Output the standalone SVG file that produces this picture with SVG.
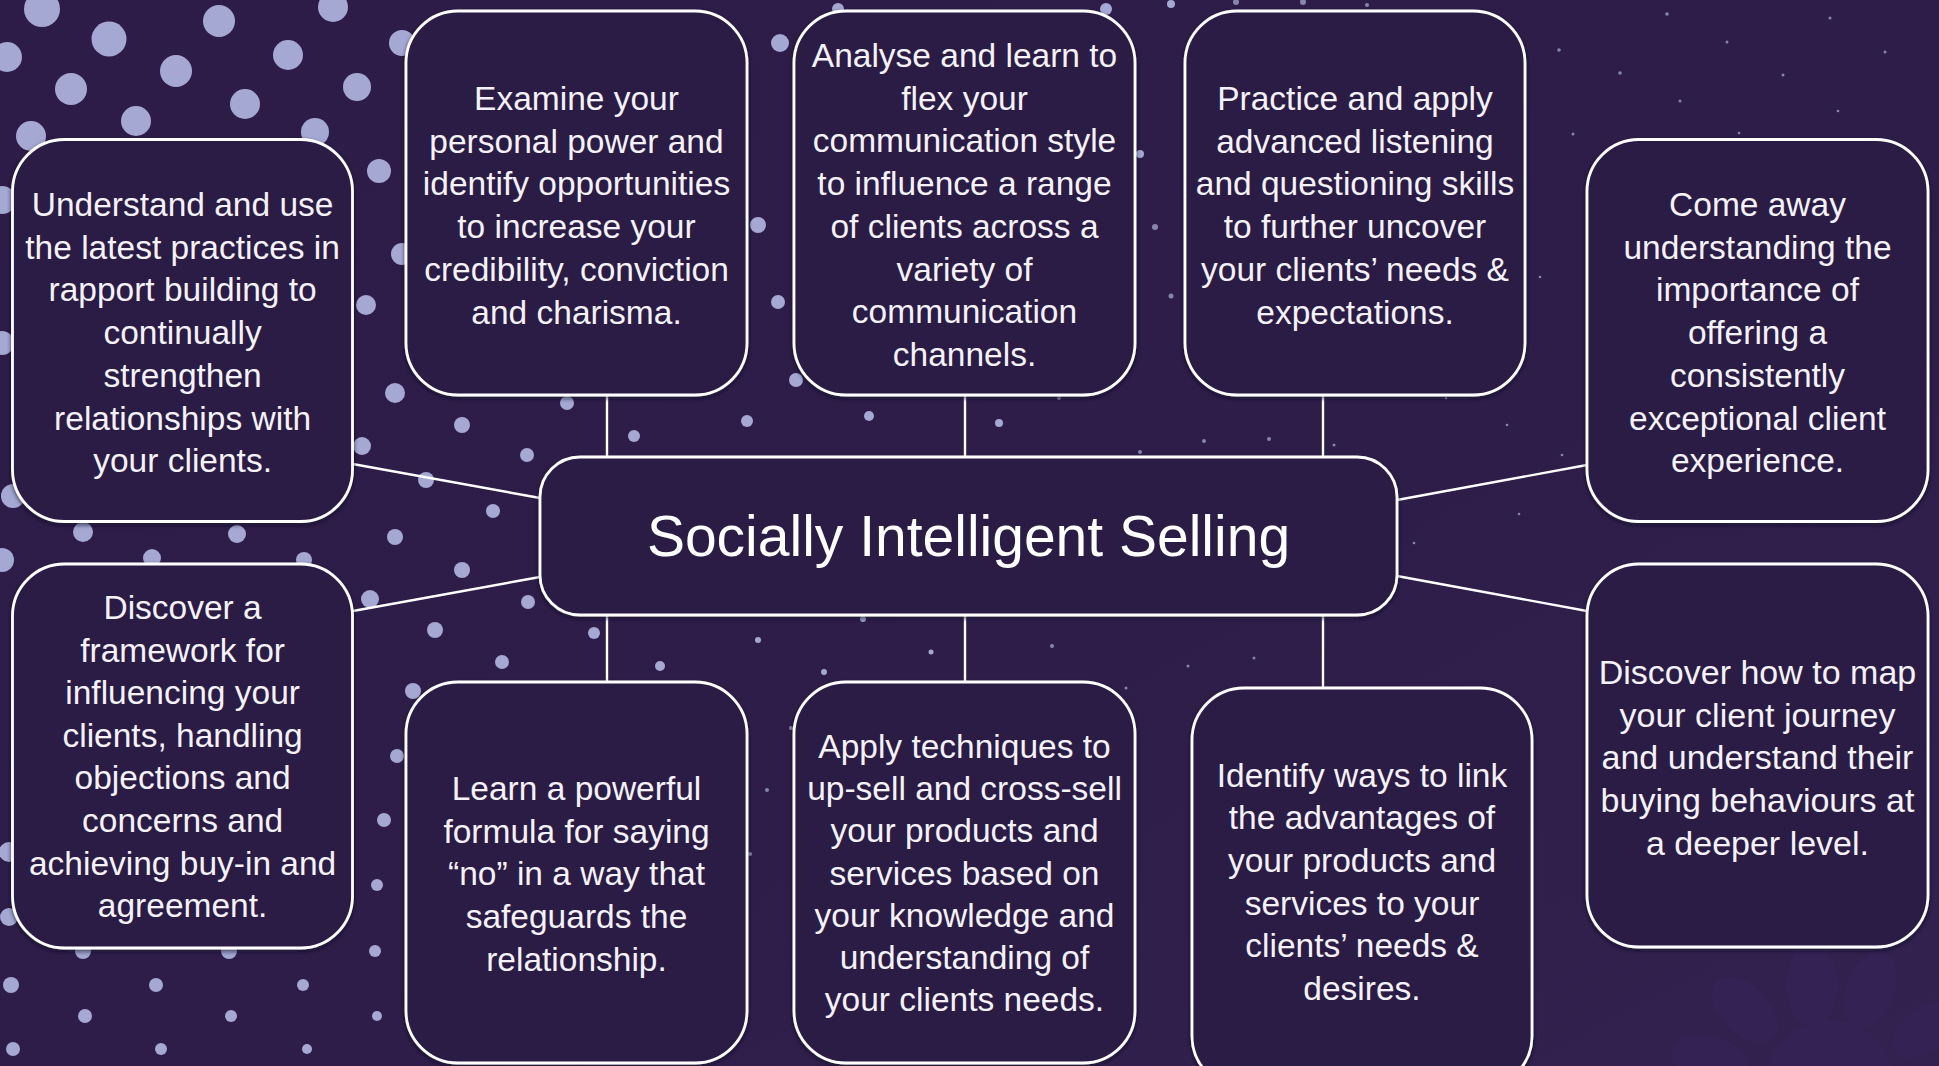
<svg xmlns="http://www.w3.org/2000/svg" width="1939" height="1066" viewBox="0 0 1939 1066">
<defs>
<linearGradient id="bg" x1="0" y1="0" x2="1" y2="1">
<stop offset="0" stop-color="#2d1c47"/>
<stop offset="0.6" stop-color="#2e1d49"/>
<stop offset="1" stop-color="#33214f"/>
</linearGradient>
<filter id="sh" x="-10%" y="-10%" width="120%" height="120%">
<feDropShadow dx="0" dy="2" stdDeviation="2" flood-color="#120a20" flood-opacity="0.7"/>
</filter>
<style>
.box{fill:#2c1b45;stroke:#ffffff;stroke-width:2.8;filter:url(#sh)}
.t{font-family:"Liberation Sans",Arial,Helvetica,sans-serif;font-size:33.5px;fill:#f4f2f8;text-anchor:middle}
.title{font-family:"Liberation Sans",Arial,Helvetica,sans-serif;font-size:57px;fill:#ffffff;text-anchor:middle}
.c{stroke:#ffffff;stroke-width:2.4;fill:none}
.d{fill:#a4a8d3}
.s{fill:#a4a8d3;opacity:0.75}
</style>
</defs>
<rect x="0" y="0" width="1939" height="1066" fill="url(#bg)"/>
<g id="decoration" fill="#37245a" opacity="0.55">
<circle cx="1830" cy="1085" r="65"/>
<ellipse cx="1812" cy="985" rx="26" ry="42"/>
<ellipse cx="1870" cy="990" rx="24" ry="40" transform="rotate(20 1870 990)"/>
<ellipse cx="1745" cy="1010" rx="24" ry="40" transform="rotate(-45 1745 1010)"/>
<ellipse cx="1710" cy="1060" rx="24" ry="40" transform="rotate(-75 1710 1060)"/>
<ellipse cx="1925" cy="1030" rx="22" ry="38" transform="rotate(55 1925 1030)"/>
</g>
<g id="dots">
<circle class="d" cx="42" cy="9" r="18"/>
<circle class="d" cx="109" cy="39" r="17.5"/>
<circle class="d" cx="219" cy="21" r="16"/>
<circle class="d" cx="333" cy="7" r="15"/>
<circle class="d" cx="7" cy="57" r="15"/>
<circle class="d" cx="71" cy="89" r="16"/>
<circle class="d" cx="176" cy="71" r="16"/>
<circle class="d" cx="288" cy="55" r="15"/>
<circle class="d" cx="357" cy="87" r="14"/>
<circle class="d" cx="402" cy="43" r="13"/>
<circle class="d" cx="245" cy="104" r="15"/>
<circle class="d" cx="136" cy="121" r="15"/>
<circle class="d" cx="31" cy="136" r="15"/>
<circle class="d" cx="315" cy="132" r="14"/>
<circle class="d" cx="379" cy="171" r="12"/>
<circle class="d" cx="2" cy="200" r="14"/>
<circle class="d" cx="402" cy="254" r="11"/>
<circle class="d" cx="366" cy="305" r="10"/>
<circle class="d" cx="2" cy="343" r="12"/>
<circle class="d" cx="395" cy="393" r="10"/>
<circle class="d" cx="362" cy="446" r="9"/>
<circle class="d" cx="462" cy="425" r="8"/>
<circle class="d" cx="567" cy="403" r="7"/>
<circle class="d" cx="634" cy="436" r="6"/>
<circle class="d" cx="527" cy="455" r="7"/>
<circle class="d" cx="426" cy="480" r="8"/>
<circle class="d" cx="493" cy="511" r="7"/>
<circle class="d" cx="13" cy="496" r="12"/>
<circle class="d" cx="83" cy="532" r="10"/>
<circle class="d" cx="237" cy="534" r="9"/>
<circle class="d" cx="395" cy="537" r="8"/>
<circle class="d" cx="152" cy="558" r="9"/>
<circle class="d" cx="304" cy="560" r="8"/>
<circle class="d" cx="2" cy="560" r="12"/>
<circle class="d" cx="462" cy="570" r="8"/>
<circle class="d" cx="370" cy="599" r="9"/>
<circle class="d" cx="528" cy="602" r="7"/>
<circle class="d" cx="435" cy="630" r="8"/>
<circle class="d" cx="594" cy="633" r="6"/>
<circle class="d" cx="502" cy="662" r="7"/>
<circle class="d" cx="660" cy="666" r="5"/>
<circle class="d" cx="413" cy="691" r="8"/>
<circle class="d" cx="397" cy="756" r="7"/>
<circle class="d" cx="384" cy="820" r="7"/>
<circle class="d" cx="9" cy="852" r="10"/>
<circle class="d" cx="377" cy="885" r="6"/>
<circle class="d" cx="9" cy="917" r="9"/>
<circle class="d" cx="83" cy="951" r="8"/>
<circle class="d" cx="229" cy="951" r="8"/>
<circle class="d" cx="375" cy="951" r="6"/>
<circle class="d" cx="11" cy="985" r="8"/>
<circle class="d" cx="156" cy="985" r="7"/>
<circle class="d" cx="303" cy="985" r="6"/>
<circle class="d" cx="85" cy="1016" r="7"/>
<circle class="d" cx="231" cy="1016" r="6"/>
<circle class="d" cx="377" cy="1016" r="5"/>
<circle class="d" cx="13" cy="1049" r="7"/>
<circle class="d" cx="161" cy="1049" r="6"/>
<circle class="d" cx="307" cy="1049" r="5"/>
<circle class="d" cx="780" cy="43" r="9"/>
<circle class="d" cx="758" cy="225" r="8"/>
<circle class="d" cx="778" cy="302" r="7"/>
<circle class="d" cx="796" cy="380" r="7"/>
<circle class="d" cx="747" cy="421" r="6"/>
<circle class="d" cx="869" cy="416" r="5"/>
<circle class="d" cx="999" cy="423" r="4"/>
<circle class="d" cx="838" cy="9" r="6"/>
<circle class="d" cx="1106" cy="9" r="6"/>
<circle class="d" cx="1171" cy="4" r="4"/>
<circle class="s" cx="1236" cy="2" r="3"/>
<circle class="s" cx="1303" cy="2" r="3"/>
<circle class="s" cx="1367" cy="5" r="2"/>
<circle class="d" cx="1140" cy="154" r="4"/>
<circle class="s" cx="1155" cy="227" r="3"/>
<circle class="s" cx="1171" cy="296" r="2.5"/>
<circle class="s" cx="1204" cy="441" r="2"/>
<circle class="s" cx="1269" cy="439" r="2"/>
<circle class="s" cx="1140" cy="452" r="2"/>
<circle class="s" cx="1334" cy="445" r="1.5"/>
<circle class="s" cx="1059" cy="398" r="2"/>
<circle class="s" cx="1667" cy="14" r="1.8"/>
<circle class="s" cx="1830" cy="18" r="1.5"/>
<circle class="s" cx="1559" cy="50" r="1.8"/>
<circle class="s" cx="1727" cy="42" r="1.5"/>
<circle class="s" cx="1885" cy="52" r="1.5"/>
<circle class="s" cx="1620" cy="73" r="1.8"/>
<circle class="s" cx="1783" cy="75" r="1.5"/>
<circle class="s" cx="1680" cy="101" r="1.5"/>
<circle class="s" cx="1838" cy="111" r="1.3"/>
<circle class="s" cx="1573" cy="134" r="1.5"/>
<circle class="s" cx="1739" cy="133" r="1.3"/>
<circle class="s" cx="1540" cy="277" r="1.3"/>
<circle class="s" cx="1446" cy="398" r="1.3"/>
<circle class="s" cx="1507" cy="425" r="1.3"/>
<circle class="s" cx="1562" cy="455" r="1.3"/>
<circle class="s" cx="1519" cy="514" r="1.3"/>
<circle class="s" cx="1414" cy="543" r="1.3"/>
<circle class="d" cx="863" cy="619" r="3"/>
<circle class="d" cx="758" cy="640" r="3"/>
<circle class="d" cx="931" cy="652" r="2.5"/>
<circle class="d" cx="824" cy="672" r="3"/>
<circle class="s" cx="1052" cy="646" r="2"/>
<circle class="s" cx="767" cy="790" r="2"/>
<circle class="s" cx="750" cy="854" r="2"/>
<circle class="s" cx="791" cy="728" r="2"/>
<circle class="s" cx="1188" cy="666" r="1.5"/>
<circle class="s" cx="1254" cy="658" r="1.5"/>
<circle class="s" cx="1126" cy="688" r="1.5"/>
</g>
<g id="connectors">
<line class="c" x1="352.7" y1="464" x2="540" y2="498"/>
<line class="c" x1="607" y1="395" x2="607" y2="457"/>
<line class="c" x1="965" y1="395" x2="965" y2="457"/>
<line class="c" x1="1323" y1="395" x2="1323" y2="457"/>
<line class="c" x1="1397" y1="500" x2="1587" y2="465"/>
<line class="c" x1="353" y1="611" x2="540" y2="577"/>
<line class="c" x1="607" y1="615" x2="607" y2="682"/>
<line class="c" x1="965" y1="615" x2="965" y2="682"/>
<line class="c" x1="1323" y1="615" x2="1323" y2="688"/>
<line class="c" x1="1397" y1="576" x2="1587" y2="611"/>
</g>
<g id="center">
<rect class="box" x="540" y="457" width="857" height="158" rx="40"/>
<text class="title" x="968.5" y="556">Socially Intelligent Selling</text>
</g>
<g id="node1">
<rect class="box" x="12.5" y="139.5" width="340" height="382" rx="52"/>
<text class="t" y="216"><tspan x="182.6">Understand and use</tspan><tspan x="182.6" dy="42.7">the latest practices in</tspan><tspan x="182.6" dy="42.7">rapport building to</tspan><tspan x="182.6" dy="42.7">continually</tspan><tspan x="182.6" dy="42.7">strengthen</tspan><tspan x="182.6" dy="42.7">relationships with</tspan><tspan x="182.6" dy="42.7">your clients.</tspan></text>
</g>
<g id="node2">
<rect class="box" x="406" y="11" width="341" height="384" rx="52"/>
<text class="t" y="110"><tspan x="576.5">Examine your</tspan><tspan x="576.5" dy="42.7">personal power and</tspan><tspan x="576.5" dy="42.7">identify opportunities</tspan><tspan x="576.5" dy="42.7">to increase your</tspan><tspan x="576.5" dy="42.7">credibility, conviction</tspan><tspan x="576.5" dy="42.7">and charisma.</tspan></text>
</g>
<g id="node3">
<rect class="box" x="794" y="11" width="341" height="384" rx="52"/>
<text class="t" y="67"><tspan x="964.5">Analyse and learn to</tspan><tspan x="964.5" dy="42.7">flex your</tspan><tspan x="964.5" dy="42.7">communication style</tspan><tspan x="964.5" dy="42.7">to influence a range</tspan><tspan x="964.5" dy="42.7">of clients across a</tspan><tspan x="964.5" dy="42.7">variety of</tspan><tspan x="964.5" dy="42.7">communication</tspan><tspan x="964.5" dy="42.7">channels.</tspan></text>
</g>
<g id="node4">
<rect class="box" x="1185" y="11" width="340" height="384" rx="52"/>
<text class="t" y="110"><tspan x="1355">Practice and apply</tspan><tspan x="1355" dy="42.7">advanced listening</tspan><tspan x="1355" dy="42.7">and questioning skills</tspan><tspan x="1355" dy="42.7">to further uncover</tspan><tspan x="1355" dy="42.7">your clients’ needs &amp;</tspan><tspan x="1355" dy="42.7">expectations.</tspan></text>
</g>
<g id="node5">
<rect class="box" x="1587" y="139.5" width="341" height="382" rx="52"/>
<text class="t" y="216"><tspan x="1757.5">Come away</tspan><tspan x="1757.5" dy="42.7">understanding the</tspan><tspan x="1757.5" dy="42.7">importance of</tspan><tspan x="1757.5" dy="42.7">offering a</tspan><tspan x="1757.5" dy="42.7">consistently</tspan><tspan x="1757.5" dy="42.7">exceptional client</tspan><tspan x="1757.5" dy="42.7">experience.</tspan></text>
</g>
<g id="node6">
<rect class="box" x="12.5" y="564" width="340" height="384" rx="52"/>
<text class="t" y="619"><tspan x="182.6">Discover a</tspan><tspan x="182.6" dy="42.6">framework for</tspan><tspan x="182.6" dy="42.6">influencing your</tspan><tspan x="182.6" dy="42.6">clients, handling</tspan><tspan x="182.6" dy="42.6">objections and</tspan><tspan x="182.6" dy="42.6">concerns and</tspan><tspan x="182.6" dy="42.6">achieving buy-in and</tspan><tspan x="182.6" dy="42.6">agreement.</tspan></text>
</g>
<g id="node7">
<rect class="box" x="406" y="682" width="341" height="381" rx="52"/>
<text class="t" y="800"><tspan x="576.5">Learn a powerful</tspan><tspan x="576.5" dy="42.7">formula for saying</tspan><tspan x="576.5" dy="42.7">“no” in a way that</tspan><tspan x="576.5" dy="42.7">safeguards the</tspan><tspan x="576.5" dy="42.7">relationship.</tspan></text>
</g>
<g id="node8">
<rect class="box" x="794" y="682" width="341" height="381" rx="52"/>
<text class="t" y="758"><tspan x="964.5">Apply techniques to</tspan><tspan x="964.5" dy="42.2">up-sell and cross-sell</tspan><tspan x="964.5" dy="42.2">your products and</tspan><tspan x="964.5" dy="42.2">services based on</tspan><tspan x="964.5" dy="42.2">your knowledge and</tspan><tspan x="964.5" dy="42.2">understanding of</tspan><tspan x="964.5" dy="42.2">your clients needs.</tspan></text>
</g>
<g id="node9">
<rect class="box" x="1192" y="688" width="340" height="400" rx="52"/>
<text class="t" y="786.5"><tspan x="1362">Identify ways to link</tspan><tspan x="1362" dy="42.7">the advantages of</tspan><tspan x="1362" dy="42.7">your products and</tspan><tspan x="1362" dy="42.7">services to your</tspan><tspan x="1362" dy="42.7">clients’ needs &amp;</tspan><tspan x="1362" dy="42.7">desires.</tspan></text>
</g>
<g id="node10">
<rect class="box" x="1587" y="564" width="341" height="383" rx="52"/>
<text class="t" y="683.6" style="font-size:34px"><tspan x="1757.5">Discover how to map</tspan><tspan x="1757.5" dy="42.9">your client journey</tspan><tspan x="1757.5" dy="42.9">and understand their</tspan><tspan x="1757.5" dy="42.9">buying behaviours at</tspan><tspan x="1757.5" dy="42.9">a deeper level.</tspan></text>
</g>
</svg>
